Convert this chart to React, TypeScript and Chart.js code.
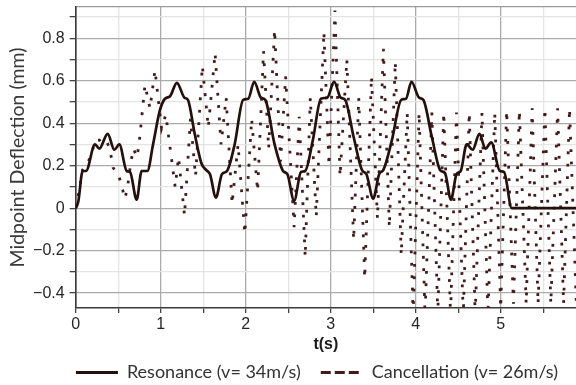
import React, { useEffect, useRef } from 'react';
import { Chart, registerables } from 'chart.js';

Chart.register(...registerables);

// ---- data ----
const seriesLabels = ['Resonance (v= 34m/s)', 'Cancellation (v= 26m/s)'];

const resonanceT = [
  0, 0.03, 0.082, 0.121, 0.227, 0.278, 0.376, 0.455, 0.513, 0.6, 0.64, 0.717, 0.776, 0.843,
  0.91, 0.99, 1.05, 1.11, 1.19, 1.28, 1.32, 1.4, 1.48, 1.54, 1.58, 1.65, 1.72, 1.78, 1.87,
  1.97, 2.03, 2.1, 2.18, 2.23, 2.34, 2.44, 2.49, 2.57, 2.65, 2.7, 2.79, 2.885, 2.96, 3.04,
  3.118, 3.17, 3.27, 3.37, 3.42, 3.5, 3.57, 3.62, 3.72, 3.83, 3.886, 3.95, 4.04, 4.09, 4.19,
  4.29, 4.345, 4.415, 4.48, 4.53, 4.6, 4.67, 4.75, 4.82, 4.888, 4.99, 5.04, 5.13, 5.5, 5.9,
];
const resonanceV = [
  0, 0.03, 0.175, 0.175, 0.3, 0.28, 0.35, 0.275, 0.3, 0.175, 0.17, 0.04, 0.175, 0.175,
  0.3, 0.46, 0.515, 0.527, 0.59, 0.52, 0.51, 0.35, 0.21, 0.178, 0.16, 0.05, 0.16, 0.175, 0.3,
  0.51, 0.515, 0.595, 0.52, 0.51, 0.3, 0.175, 0.16, 0.035, 0.17, 0.175, 0.32, 0.515, 0.52, 0.595,
  0.52, 0.51, 0.335, 0.178, 0.16, 0.045, 0.16, 0.18, 0.32, 0.51, 0.515, 0.595, 0.52, 0.51, 0.335,
  0.178, 0.165, 0.04, 0.16, 0.175, 0.3, 0.275, 0.35, 0.28, 0.31, 0.175, 0.17, 0, 0, 0,
];

const cancelT = [
  0, 0.04, 0.08, 0.14, 0.19, 0.23, 0.28, 0.33, 0.38, 0.41, 0.44, 0.51, 0.55, 0.58, 0.61, 0.65,
  0.68, 0.72, 0.745, 0.815, 0.874, 0.933, 1.01, 1.06, 1.17, 1.21, 1.28, 1.35, 1.41, 1.49, 1.56,
  1.64, 1.71, 1.77, 1.84, 1.91, 1.99, 2.07, 2.14, 2.21, 2.27, 2.34, 2.41, 2.47, 2.57, 2.63, 2.7,
  2.76, 2.83, 2.92, 2.98, 3.05, 3.11, 3.19, 3.27, 3.33, 3.4, 3.48, 3.55, 3.62, 3.69, 3.76, 3.83,
  3.9, 3.97, 4.04, 4.11, 4.19, 4.26, 4.33, 4.41, 4.48, 4.56, 4.63, 4.7, 4.78, 4.85, 4.93, 5.0,
  5.07, 5.15, 5.22, 5.3, 5.37, 5.44, 5.52, 5.59, 5.67, 5.74, 5.81, 5.89, 5.95,
];
const cancelV = [
  0, 0.08, 0.18, 0.21, 0.26, 0.32, 0.32, 0.29, 0.3, 0.26, 0.19, 0.15, 0.09, 0.045, 0.1, 0.22,
  0.28, 0.24, 0.3, 0.58, 0.47, 0.65, 0.375, 0.44, 0.1, 0.24, -0.035, 0.42, 0.15, 0.67, 0.38,
  0.73, 0.3, 0.52, 0.02, 0.3, -0.12, 0.42, 0.08, 0.74, 0.28, 0.84, 0.22, 0.62, -0.09, 0.43, -0.23,
  0.52, -0.04, 0.83, 0.2, 0.93, 0.15, 0.7, -0.15, 0.52, -0.33, 0.62, -0.05, 0.75, -0.09, 0.69, -0.22,
  0.45, -0.5, 0.45, -0.5, 0.45, -0.5, 0.45, -0.5, 0.45, -0.5, 0.45, -0.5, 0.45, -0.5, 0.45, -0.47,
  0.46, -0.45, 0.46, -0.45, 0.47, -0.45, 0.47, -0.45, 0.47, -0.45, 0.47, -0.45, 0.47,
];

const xTicks = [0, 0.5, 1, 1.5, 2, 2.5, 3, 3.5, 4, 4.5, 5, 5.5];
const yTicks = [-0.4, -0.3, -0.2, -0.1, 0, 0.1, 0.2, 0.3, 0.4, 0.5, 0.6, 0.7, 0.8, 0.9];
const X_MIN = 0;
const X_MAX = 5.886;
const Y_MIN = -0.47;
const Y_MAX = 0.947;

const xTitle = 't(s)';
const yTitle = 'Midpoint Deflection (mm)';

const RES_COLOR = '#24110e';
const CAN_COLOR = '#421c1c';
const MAJOR_GRID = '#ababab';
const MINOR_GRID = '#e4e4e4';

// centre the legend under the plot area (as in the reference) instead of the whole canvas
const legendShift = {
  id: 'legendShift',
  afterLayout(chart: any) {
    if (chart.legend) {
      chart.legend.left = 44;
      chart.legend.right = 590;
    }
  },
};

export default function App() {
  const ref = useRef<HTMLCanvasElement>(null);

  useEffect(() => {
    const canvas = ref.current;
    if (!canvas) return;
    const isMajorY = (v: number) => Math.abs(v * 5 - Math.round(v * 5)) < 1e-6;
    const isInt = (v: number) => Math.abs(v - Math.round(v)) < 1e-6;

    const chart = new Chart(canvas, {
      type: 'line',
      data: {
        datasets: [
          {
            label: seriesLabels[0],
            data: resonanceT.map((t, i) => ({ x: t, y: resonanceV[i] })),
            borderColor: RES_COLOR,
            backgroundColor: RES_COLOR,
            borderWidth: 2.7,
            pointRadius: 0,
            cubicInterpolationMode: 'monotone',
            fill: false,
          },
          {
            label: seriesLabels[1],
            data: cancelT.map((t, i) => ({ x: t, y: cancelV[i] })),
            borderColor: CAN_COLOR,
            backgroundColor: CAN_COLOR,
            borderWidth: 2.8,
            borderDash: [2.8, 9.6],
            borderCapStyle: 'butt',
            pointRadius: 0,
            tension: 0,
            fill: false,
          },
        ],
      },
      options: {
        responsive: false,
        animation: false,
        events: [],
        layout: { padding: { left: 0, right: 0, top: 7, bottom: -6.5 } },
        scales: {
          x: {
            type: 'linear',
            min: X_MIN,
            max: X_MAX,
            afterBuildTicks: (scale: any) => {
              scale.ticks = xTicks.map((v) => ({ value: v }));
            },
            afterFit: (scale: any) => {
              scale.height = 35.5;
              scale.paddingLeft = 0;
              scale.paddingRight = 0;
            },
            ticks: {
              autoSkip: false,
              maxRotation: 0,
              padding: 2,
              color: '#262626',
              font: { family: 'Liberation Sans', size: 16 },
              callback: (v: any) => (isInt(Number(v)) ? String(Math.round(Number(v))) : ''),
            },
            grid: {
              color: (ctx: any) => (ctx.tick && isInt(ctx.tick.value) ? MAJOR_GRID : MINOR_GRID),
              lineWidth: 1.3,
              tickLength: 5,
              tickColor: '#444',
            },
            border: { color: '#3a3a3a', width: 1.6 },
            title: {
              display: true,
              text: xTitle,
              color: '#1a1a1a',
              font: { family: 'Liberation Sans', size: 16, weight: 'bold' },
              padding: { top: 0, bottom: -11 },
            },
          },
          y: {
            type: 'linear',
            min: Y_MIN,
            max: Y_MAX,
            afterBuildTicks: (scale: any) => {
              scale.ticks = [...yTicks, Y_MAX].map((v) => ({ value: v }));
            },
            afterFit: (scale: any) => {
              scale.width = 75.7;
              scale.paddingTop = 0;
              scale.paddingBottom = 0;
            },
            ticks: {
              autoSkip: false,
              padding: 5,
              color: '#262626',
              font: { family: 'Liberation Sans', size: 16 },
              callback: (v: any) => {
                const n = Number(v);
                const r = Math.round(n * 10);
                if (Math.abs(n * 10 - r) > 1e-6) return '';
                if (r % 2 !== 0) return '';
                if (r === 0) return '0';
                return (r < 0 ? '\u2212' : '') + (Math.abs(r) / 10).toFixed(1);
              },
            },
            grid: {
              color: (ctx: any) => {
                if (!ctx.tick) return MINOR_GRID;
                const v = ctx.tick.value;
                if (Math.abs(v - Y_MAX) < 1e-6) return '#9a9a9a';
                return isMajorY(v) ? MAJOR_GRID : MINOR_GRID;
              },
              lineWidth: 1.3,
              tickLength: 6,
              tickColor: (ctx: any) =>
                ctx.tick && Math.abs(ctx.tick.value - Y_MAX) < 1e-6 ? 'rgba(0,0,0,0)' : '#444',
            },
            border: { color: '#3a3a3a', width: 1.6 },
            title: {
              display: true,
              text: yTitle,
              color: '#3a3a3a',
              font: { family: 'Lato', size: 19.5 },
              padding: { top: 6.3, bottom: 0 },
            },
          },
        },
        plugins: {
          tooltip: { enabled: false },
          title: { display: false },
          legend: {
            display: true,
            position: 'bottom',
            labels: {
              usePointStyle: true,
              pointStyleWidth: 42,
              padding: 20,
              color: '#333',
              font: { family: 'Lato', size: 18 },
              generateLabels: () => [
                {
                  text: seriesLabels[0],
                  strokeStyle: RES_COLOR,
                  fillStyle: RES_COLOR,
                  fontColor: '#333',
                  lineWidth: 3,
                  lineDash: [],
                  pointStyle: 'line',
                  hidden: false,
                  datasetIndex: 0,
                },
                {
                  text: seriesLabels[1],
                  strokeStyle: CAN_COLOR,
                  fillStyle: CAN_COLOR,
                  fontColor: '#333',
                  lineWidth: 3,
                  lineDash: [10, 4],
                  pointStyle: 'line',
                  hidden: false,
                  datasetIndex: 1,
                },
              ],
            },
          },
        },
      } as any,
      plugins: [legendShift],
    });
    return () => chart.destroy();
  }, []);

  return (
    <div style={{ position: 'fixed', left: 0, top: 0, width: 576, height: 385, background: '#fff' }}>
      <canvas ref={ref} width={576} height={385} style={{ display: 'block' }} />
    </div>
  );
}
